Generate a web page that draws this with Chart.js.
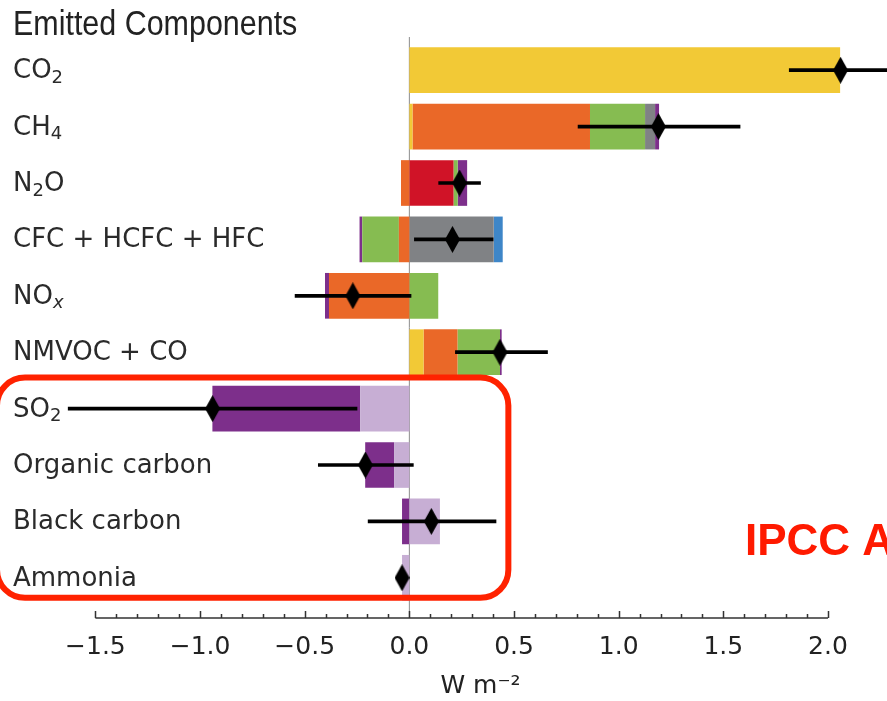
<!DOCTYPE html>
<html lang="en">
<head>
<meta charset="UTF-8">
<title>Emitted Components</title>
<script src="https://cdn.jsdelivr.net/npm/chart.js@4.4.0/dist/chart.umd.min.js"></script>
<style>
    html, body { margin: 0; padding: 0; background: #fff; }
    #wrap { width: 887px; height: 701px; position: relative; }
</style>
</head>
<body>
<div id="wrap"><canvas id="chart"></canvas></div>
<script>
// rows, top to bottom ("_" marks a one-character subscript)
const components = ['CO_2', 'CH_4', 'N_2O', 'CFC + HCFC + HFC', 'NO_x', 'NMVOC + CO',
                    'SO_2', 'Organic carbon', 'Black carbon', 'Ammonia'];

// contributions (W m-2) per component, stacked from zero outward
const aerosolRad   = [null, null, null, null, null, null, -0.235, -0.073, 0.146, -0.035];
const co2Part      = [2.058, 0.015, null, null, null, 0.068, null, null, null, null];
const ch4Part      = [null, 0.848, -0.04, -0.05, -0.384, 0.162, null, null, null, null];
const n2oPart      = [null, null, 0.211, null, null, null, null, null, null, null];
const ozonePart    = [null, 0.263, 0.02, -0.175, 0.138, 0.203, null, null, null, null];
const grayPart     = [null, 0.048, null, 0.403, null, null, null, null, null, null];
const halogenPart  = [null, null, null, 0.043, null, null, null, null, null, null];
const aerosolCloud = [null, 0.019, 0.045, -0.013, -0.019, 0.008, -0.706, -0.138, -0.035, null];

// best estimate and 5-95% range
const bestEstimate = [2.06, 1.19, 0.24, 0.206, -0.27, 0.433, -0.94, -0.21, 0.105, -0.035];
const rangeLow     = [1.815, 0.806, 0.14, 0.024, -0.546, 0.22, -1.63, -0.435, -0.197, null];
const rangeHigh    = [2.31, 1.58, 0.34, 0.40, 0.008, 0.66, -0.25, 0.019, 0.414, null];

const majorTicks = [-1.5, -1.0, -0.5, 0.0, 0.5, 1.0, 1.5, 2.0];

const fmt = v => (v < 0 ? '\u2212' : '') + Math.abs(v).toFixed(1);

// thin diamond marker
const diamond = document.createElement('canvas');
diamond.width = 15; diamond.height = 27;
(function () {
    const c = diamond.getContext('2d');
    c.fillStyle = '#000';
    c.beginPath();
    c.moveTo(7.5, 0); c.lineTo(15, 13.5); c.lineTo(7.5, 27); c.lineTo(0, 13.5);
    c.closePath(); c.fill();
})();

function barSet(label, data, color) {
    return { label, data, backgroundColor: color, borderWidth: 0,
             barPercentage: 0.81, categoryPercentage: 1.0, order: 2 };
}

// draws "CO_2" style label with a real subscript
function drawLabel(ctx, text, x, y) {
    const parts = text.split(/_(.)/);
    let cx = x;
    parts.forEach((p, k) => {
        if (!p) return;
        const sub = k % 2 === 1;
        const italic = sub && /[a-z]/.test(p);
        ctx.font = (italic ? 'italic ' : '') + (sub ? '18px' : '26px') + ' "DejaVu Sans"';
        ctx.fillText(p, cx, sub ? y + 4.5 : y);
        cx += ctx.measureText(p).width;
    });
}

// title, row labels, spine with inward ticks, zero line, highlight box and stamp
const decor = {
    id: 'decor',
    beforeDatasetsDraw(chart) {
        const { ctx, chartArea, scales: { x } } = chart;
        const x0 = x.getPixelForValue(0);
        ctx.save();
        ctx.strokeStyle = '#8c8c8c';
        ctx.lineWidth = 1;
        ctx.beginPath();
        ctx.moveTo(x0, chartArea.top - 5);
        ctx.lineTo(x0, chartArea.bottom + 12);
        ctx.stroke();
        ctx.restore();
    },
    afterDraw(chart) {
        const { ctx, chartArea, scales: { x, y } } = chart;
        const ya = chartArea.bottom + 12;
        ctx.save();

        // condensed heading
        ctx.save();
        ctx.fillStyle = '#222';
        ctx.font = '35px "Liberation Sans"';
        ctx.textAlign = 'left';
        ctx.textBaseline = 'alphabetic';
        ctx.translate(13, 35);
        ctx.scale(0.87, 1);
        ctx.fillText('Emitted Components', 0, 0);
        ctx.restore();

        // row labels, left aligned over the plot
        ctx.fillStyle = '#2a2a2a';
        ctx.textAlign = 'left';
        ctx.textBaseline = 'alphabetic';
        components.forEach((c, i) => drawLabel(ctx, c, 13, y.getPixelForValue(i) + 8));

        ctx.strokeStyle = '#333';
        ctx.lineWidth = 1.5;
        ctx.beginPath();
        ctx.moveTo(x.getPixelForValue(majorTicks[0]), ya);
        ctx.lineTo(x.getPixelForValue(majorTicks[majorTicks.length - 1]), ya);
        for (let i = 0; i <= 35; i++) {
            const v = majorTicks[0] + i * 0.1;
            const px = Math.round(x.getPixelForValue(v)) + 0.5;
            const len = i % 5 === 0 ? 7 : 4;
            ctx.moveTo(px, ya);
            ctx.lineTo(px, ya - len);
        }
        ctx.stroke();

        ctx.fillStyle = '#222';
        ctx.font = '25px "DejaVu Sans"';
        ctx.textAlign = 'center';
        ctx.textBaseline = 'middle';
        ctx.fillText('W m\u207B\u00B2', x.getPixelForValue(0.34), 686);

        // red box around the aerosol rows
        const top = y.getPixelForValue(6) - 31;
        const bot = y.getPixelForValue(9) + 20;
        const right = x.getPixelForValue(0.473);
        ctx.strokeStyle = '#ff2200';
        ctx.lineWidth = 6;
        ctx.beginPath();
        ctx.roundRect(-3, top, right + 3, bot - top, 28);
        ctx.stroke();

        ctx.fillStyle = '#ff1a00';
        ctx.font = 'bold 44px "Liberation Sans"';
        ctx.textAlign = 'left';
        ctx.textBaseline = 'alphabetic';
        ctx.fillText('IPCC AR6', 745, 555);
        ctx.restore();
    }
};

new Chart(document.getElementById('chart'), {
    type: 'bar',
    data: {
        labels: components,
        datasets: [
            {
                type: 'line', label: 'Best estimate',
                data: bestEstimate.map((v, i) => ({ x: v, y: components[i] })),
                showLine: false, pointStyle: diamond, pointRadius: 8,
                stack: 'pts', order: 0
            },
            {
                label: 'Range',
                data: rangeLow.map((v, i) => v === null ? null : [v, rangeHigh[i]]),
                backgroundColor: '#000', barThickness: 3, grouped: false,
                stack: 'err', order: 1
            },
            barSet('Aerosol-radiation', aerosolRad, '#c7aed4'),
            barSet('CO2', co2Part, '#f2c936'),
            barSet('CH4', ch4Part, '#ea6828'),
            barSet('N2O', n2oPart, '#d01327'),
            barSet('Ozone', ozonePart, '#86bc51'),
            barSet('Halogenated / H2O', grayPart, '#808285'),
            barSet('Other halogen', halogenPart, '#3e86c8'),
            barSet('Aerosol-cloud', aerosolCloud, '#7d2f8b')
        ]
    },
    options: {
        indexAxis: 'y',
        responsive: true,
        maintainAspectRatio: false,
        animation: false,
        layout: { autoPadding: false, padding: { left: 10, right: 0, top: 42, bottom: 21 } },
        plugins: {
            legend: { display: false },
            tooltip: { enabled: false },
            title: { display: false }
        },
        scales: {
            x: {
                type: 'linear',
                stacked: true,
                min: -1.908,
                max: 2.282,
                grid: { display: false },
                border: { display: false },
                afterBuildTicks: s => { s.ticks = majorTicks.map(v => ({ value: v })); },
                ticks: {
                    color: '#222',
                    padding: 18,
                    maxRotation: 0,
                    autoSkip: false,
                    font: { family: '"DejaVu Sans"', size: 25 },
                    callback: v => fmt(v)
                }
            },
            y: {
                stacked: true,
                grid: { display: false, drawTicks: false },
                border: { display: false },
                ticks: { display: false }
            }
        }
    },
    plugins: [decor]
});
</script>
</body>
</html>
